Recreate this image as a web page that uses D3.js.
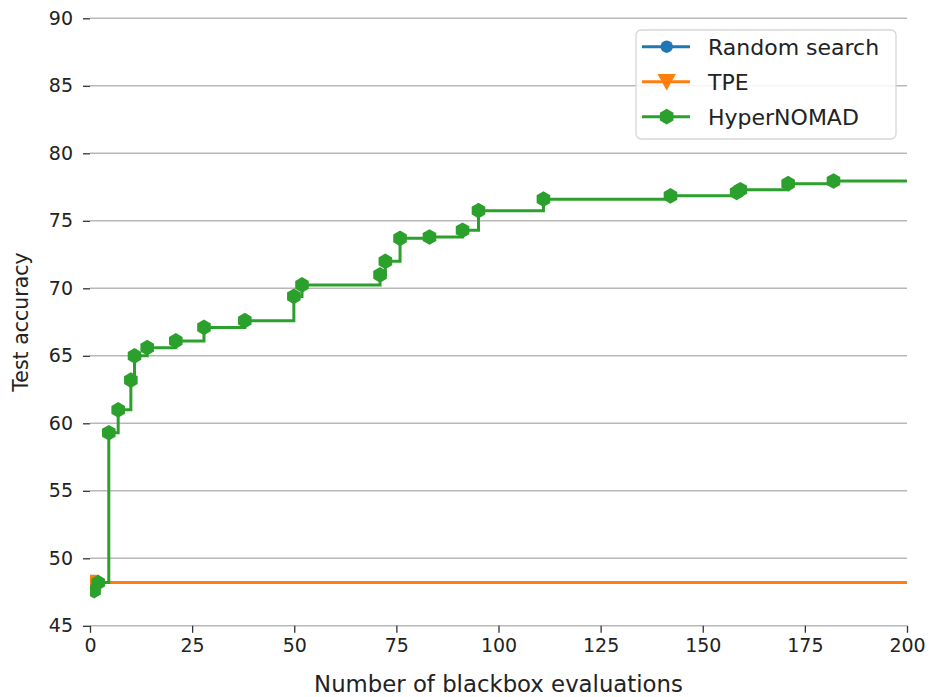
<!DOCTYPE html>
<html>
<head>
<meta charset="utf-8">
<script src="https://cdn.jsdelivr.net/npm/d3@7"></script>
<style>
  body { margin: 0; background: #fff; }
  text { font-family: "DejaVu Sans", sans-serif; fill: #222; }
</style>
</head>
<body>
<svg width="932" height="697"></svg>
<script>
// evaluation budget and axis ticks
let budget = 200;
let xTicks = [0, 25, 50, 75, 100, 125, 150, 175, 200];
let yTicks = [45, 50, 55, 60, 65, 70, 75, 80, 85, 90];

// best test accuracy found so far, one point per improvement
let randomX = [0];
let randomY = [48.2];
let tpeX = [0];
let tpeY = [48.2];
let hyperX = [1, 2, 4.6, 6.9, 10, 10.9, 14, 21, 27.9, 37.9, 49.9, 51.9, 71, 72.3, 75.9, 83.1, 91.2, 95.1, 111, 142.1, 158.3, 159.2, 170.9, 182];
let hyperY = [47.6, 48.2, 59.3, 61.0, 63.2, 65.0, 65.6, 66.1, 67.1, 67.6, 69.4, 70.25, 71.0, 72.0, 73.7, 73.8, 74.3, 75.75, 76.6, 76.85, 77.1, 77.3, 77.75, 77.95];

let series = [
    {name: 'Random search', color: '#1f77b4', marker: 'circle', xs: randomX, ys: randomY},
    {name: 'TPE', color: '#ff7f0e', marker: 'triangle', xs: tpeX, ys: tpeY},
    {name: 'HyperNOMAD', color: '#2ca02c', marker: 'hexagon', xs: hyperX, ys: hyperY},
];

let svg = d3.select("svg");
let margin = {top: 18.3, right: 25, bottom: 71.2, left: 90};
let width = 932 - margin.left - margin.right;
let height = 697 - margin.top - margin.bottom;

let x = d3.scaleLinear().domain([0, budget]).range([0, width]);
let y = d3.scaleLinear().domain([45, 90]).range([height, 0]);

let g = svg.append('g').attr('transform', `translate(${margin.left},${margin.top})`);

// hexagon with a point on top, like matplotlib's 'h'
let hexagon = {
    draw(context, size) {
        let r = Math.sqrt(size / (1.5 * Math.sqrt(3)));
        for (let i = 0; i < 6; i++) {
            let a = Math.PI / 2 + i * Math.PI / 3;
            let px = r * Math.cos(a), py = -r * Math.sin(a);
            if (i == 0) context.moveTo(px, py); else context.lineTo(px, py);
        }
        context.closePath();
    }
};
let triangleDown = {
    draw(context, size) {
        let r = Math.sqrt(size / 1.3);
        context.moveTo(-r, -r * 0.85);
        context.lineTo(r, -r * 0.85);
        context.lineTo(0, r * 0.95);
        context.closePath();
    }
};
function symbolFor(marker) {
    if (marker == 'circle') return d3.symbol().type(d3.symbolCircle).size(120);
    if (marker == 'triangle') return d3.symbol().type(triangleDown).size(110);
    return d3.symbol().type(hexagon).size(160);
}

// gridlines
g.append('g').selectAll('line').data(yTicks).join('line')
    .attr('x1', 0).attr('x2', width)
    .attr('y1', d => y(d)).attr('y2', d => y(d))
    .attr('stroke', '#b8b8b8').attr('stroke-width', 1.5);

// axes without spines
let yAxis = g.append('g')
    .call(d3.axisLeft(y).tickValues(yTicks).tickSize(7).tickPadding(10).tickFormat(d3.format('d')));
let xAxis = g.append('g').attr('transform', `translate(0,${height})`)
    .call(d3.axisBottom(x).tickValues(xTicks).tickSize(7).tickPadding(4).tickFormat(d3.format('d')));
for (let ax of [xAxis, yAxis]) {
    ax.select('.domain').remove();
    ax.selectAll('.tick line').attr('stroke', '#333').attr('stroke-width', 1.3);
    ax.selectAll('.tick text').style('font-size', '19px').attr('fill', '#222');
}
xAxis.selectAll('.tick text').attr('dy', '0.8em');

svg.append('text')
    .attr('x', margin.left + width / 2).attr('y', 692)
    .attr('text-anchor', 'middle').style('font-size', '22.8px')
    .text('Number of blackbox evaluations');
svg.append('text')
    .attr('transform', `translate(28,${margin.top + height / 2}) rotate(-90)`)
    .attr('text-anchor', 'middle').style('font-size', '20.5px')
    .text('Test accuracy');

// plot area clip, as matplotlib clips lines and markers to the axes
svg.append('defs').append('clipPath').attr('id', 'plot')
    .append('rect').attr('width', width).attr('height', height);
let plot = g.append('g').attr('clip-path', 'url(#plot)');

let line = d3.line().curve(d3.curveStepAfter).x(d => x(d[0])).y(d => y(d[1]));

for (let s of series) {
    let pts = s.xs.map((v, i) => [v, s.ys[i]]);
    let path = pts.concat([[budget, s.ys[s.ys.length - 1]]]);
    plot.append('path').datum(path)
        .attr('d', line).attr('fill', 'none')
        .attr('stroke', s.color).attr('stroke-width', 3);
    plot.append('g').selectAll('path').data(pts).join('path')
        .attr('transform', d => `translate(${x(d[0])},${y(d[1])})`)
        .attr('d', symbolFor(s.marker)())
        .attr('fill', s.color);
}

// legend
let legend = svg.append('g').attr('transform', 'translate(636,30)');
legend.append('rect')
    .attr('width', 260).attr('height', 109).attr('rx', 5)
    .attr('fill', 'white').attr('fill-opacity', 0.85)
    .attr('stroke', '#d6d6d6').attr('stroke-width', 1.3);
series.forEach(function(s, i) {
    let row = legend.append('g').attr('transform', `translate(0,${16.7 + i * 35})`);
    row.append('line').attr('x1', 6).attr('x2', 54)
        .attr('stroke', s.color).attr('stroke-width', 3);
    row.append('path').attr('transform', 'translate(30.7,0)')
        .attr('d', symbolFor(s.marker)()).attr('fill', s.color);
    row.append('text').attr('x', 72).attr('dy', '0.36em')
        .style('font-size', '22px').text(s.name);
});
</script>
</body>
</html>
